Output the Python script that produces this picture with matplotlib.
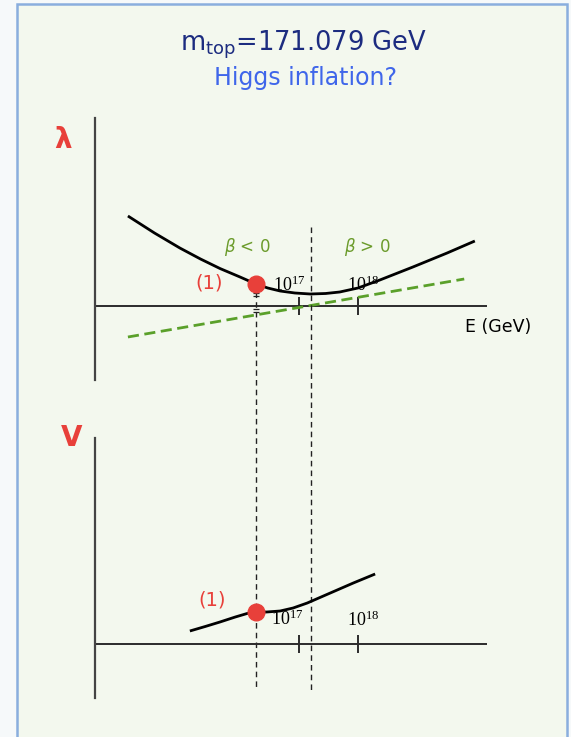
import matplotlib
matplotlib.use("Agg")
import matplotlib.pyplot as plt
from matplotlib.patches import Rectangle

# --- running quartic coupling lambda(E) (arbitrary units) vs log10(E/GeV)
lam_logE = [14.10, 14.55, 14.98, 15.33, 15.66, 16.00, 16.27, 16.47, 16.68, 16.93,
            17.19, 17.45, 17.69, 18.00, 18.37, 18.65, 18.93, 19.22, 19.51, 19.98]
lam_vals = [0.90, 0.73, 0.58, 0.47, 0.375, 0.29, 0.22, 0.18, 0.15, 0.13,
            0.12, 0.125, 0.14, 0.18, 0.26, 0.325, 0.39, 0.46, 0.53, 0.65]

# --- beta function (green dashed)
beta_logE = [14.10, 19.80]
beta_vals = [-0.31, 0.27]

# --- effective potential V(E)
V_logE = [15.15, 15.41, 15.66, 15.92, 16.12, 16.27, 16.45, 16.68, 16.90,
          17.14, 17.53, 17.92, 18.29]
V_vals = [0.13, 0.175, 0.22, 0.27, 0.305, 0.32, 0.32, 0.33, 0.36,
          0.41, 0.51, 0.61, 0.70]

# --- marked energies
tick_logE = [17, 18]
tick_labels = [r"$\mathregular{10^{17}}$", r"$\mathregular{10^{18}}$"]
point1_logE = 16.27
point1_lam = 0.22
point1_V = 0.32
beta_zero_logE = 17.20

RED = "#e8403a"
GREEN_TXT = "#6b9b2b"
GREEN_LINE = "#5aa02a"
NAVY = "#1c2c80"
BLUE = "#3f66ea"
AX_COL = "#2b2b2b"

W, H = 571, 737
fig = plt.figure(figsize=(W / 100, H / 100), dpi=100)
fig.patch.set_facecolor("#f6f9fa")

# slide panel with blue border
fig.patches.append(Rectangle((17 / W, -0.02), (567 - 17) / W, (H - 4) / H + 0.02,
                             transform=fig.transFigure, facecolor="#f3f8ee",
                             edgecolor="#8aaede", linewidth=1.8, zorder=-5))

xlim = (13.542, 20.186)


def fpos(x0, x1, y_top, y_bot):
    return [x0 / W, 1 - y_bot / H, (x1 - x0) / W, (y_bot - y_top) / H]


ax1 = fig.add_axes(fpos(95, 487, 118, 380))
ax2 = fig.add_axes(fpos(95, 487, 438, 698))
for ax in (ax1, ax2):
    ax.set_zorder(1)
    ax.patch.set_visible(False)
    ax.set_xlim(*xlim)
    for s in ("top", "right", "bottom"):
        ax.spines[s].set_visible(False)
    ax.spines["left"].set_color("#444444")
    ax.spines["left"].set_linewidth(1.6)
    ax.set_xticks([])
    ax.set_yticks([])
    ax.axhline(0, color=AX_COL, lw=1.4, zorder=2)
    ax.plot(tick_logE, [0] * len(tick_logE), ls="none", marker="|",
            ms=13, mew=1.4, color=AX_COL, zorder=3)

ax1.set_ylim(-0.74, 1.88)
ax2.set_ylim(-0.54, 2.06)

# top panel: lambda and beta
ax1.plot(lam_logE, lam_vals, color="black", lw=2.0, solid_capstyle="butt",
         solid_joinstyle="round", zorder=4)
ax1.plot(beta_logE, beta_vals, color=GREEN_LINE, lw=2.0, ls=(0, (4, 2)), zorder=3)
ax1.plot([point1_logE], [point1_lam], "o", ms=12, color=RED, mec=RED, zorder=6)

# dashed markers running through both panels
ax1.plot([point1_logE, point1_logE], [0.14, -3.84], color="#222222", lw=1.0,
         ls=(0, (4, 3)), clip_on=False, zorder=3)
ax1.plot([beta_zero_logE, beta_zero_logE], [0.79, -3.84], color="#222222", lw=1.0,
         ls=(0, (4, 3)), clip_on=False, zorder=3)
ax1.plot([point1_logE] * 4, [0.13, 0.10, -0.03, -0.06], ls="none", marker="_",
         ms=5, mew=0.9, color="#222222", zorder=5)

ax1.text(16.83, 0.21, tick_labels[0], fontsize=13, family="Liberation Serif",
         ha="center", va="center", zorder=7)
ax1.text(18.08, 0.21, tick_labels[1], fontsize=13, family="Liberation Serif",
         ha="center", va="center", zorder=7)
ax1.text(16.12, 0.59, r"$\beta$ < 0", fontsize=12, color=GREEN_TXT,
         ha="center", va="center", family="DejaVu Sans")
ax1.text(18.15, 0.59, r"$\beta$ > 0", fontsize=12, color=GREEN_TXT,
         ha="center", va="center", family="DejaVu Sans")
ax1.text(15.47, 0.23, "(1)", fontsize=14, color=RED, ha="center", va="center",
         family="DejaVu Sans")
ax1.text(20.37, -0.21, "E (GeV)", fontsize=12.5, color="black", ha="center",
         va="center", family="DejaVu Sans", clip_on=False)

# bottom panel: potential
ax2.plot(V_logE, V_vals, color="black", lw=2.0, solid_capstyle="butt",
         solid_joinstyle="round", zorder=4)
ax2.plot([point1_logE], [point1_V], "o", ms=12, color=RED, mec=RED, zorder=6)
ax2.text(16.80, 0.25, tick_labels[0], fontsize=13, family="Liberation Serif",
         ha="center", va="center", zorder=7)
ax2.text(18.08, 0.24, tick_labels[1], fontsize=13, family="Liberation Serif",
         ha="center", va="center", zorder=7)
ax2.text(15.53, 0.44, "(1)", fontsize=14, color=RED, ha="center", va="center",
         family="DejaVu Sans")

# axis symbols
fig.text(63 / W, 1 - 140 / H, "λ", fontsize=20, fontweight="bold", color=RED,
         ha="center", va="center", family="DejaVu Sans")
fig.text(72 / W, 1 - 438 / H, "V", fontsize=20, fontweight="bold", color=RED,
         ha="center", va="center", family="DejaVu Sans")

# titles
fig.text(304 / W, 1 - 45 / H, r"m$_{\mathregular{top}}$=171.079 GeV", fontsize=18.5,
         color=NAVY, ha="center", va="center", family="DejaVu Sans")
fig.text(305 / W, 1 - 78 / H, "Higgs inflation?", fontsize=17, color=BLUE,
         ha="center", va="center", family="DejaVu Sans")

fig.savefig("out.png", dpi=100, facecolor=fig.get_facecolor())
